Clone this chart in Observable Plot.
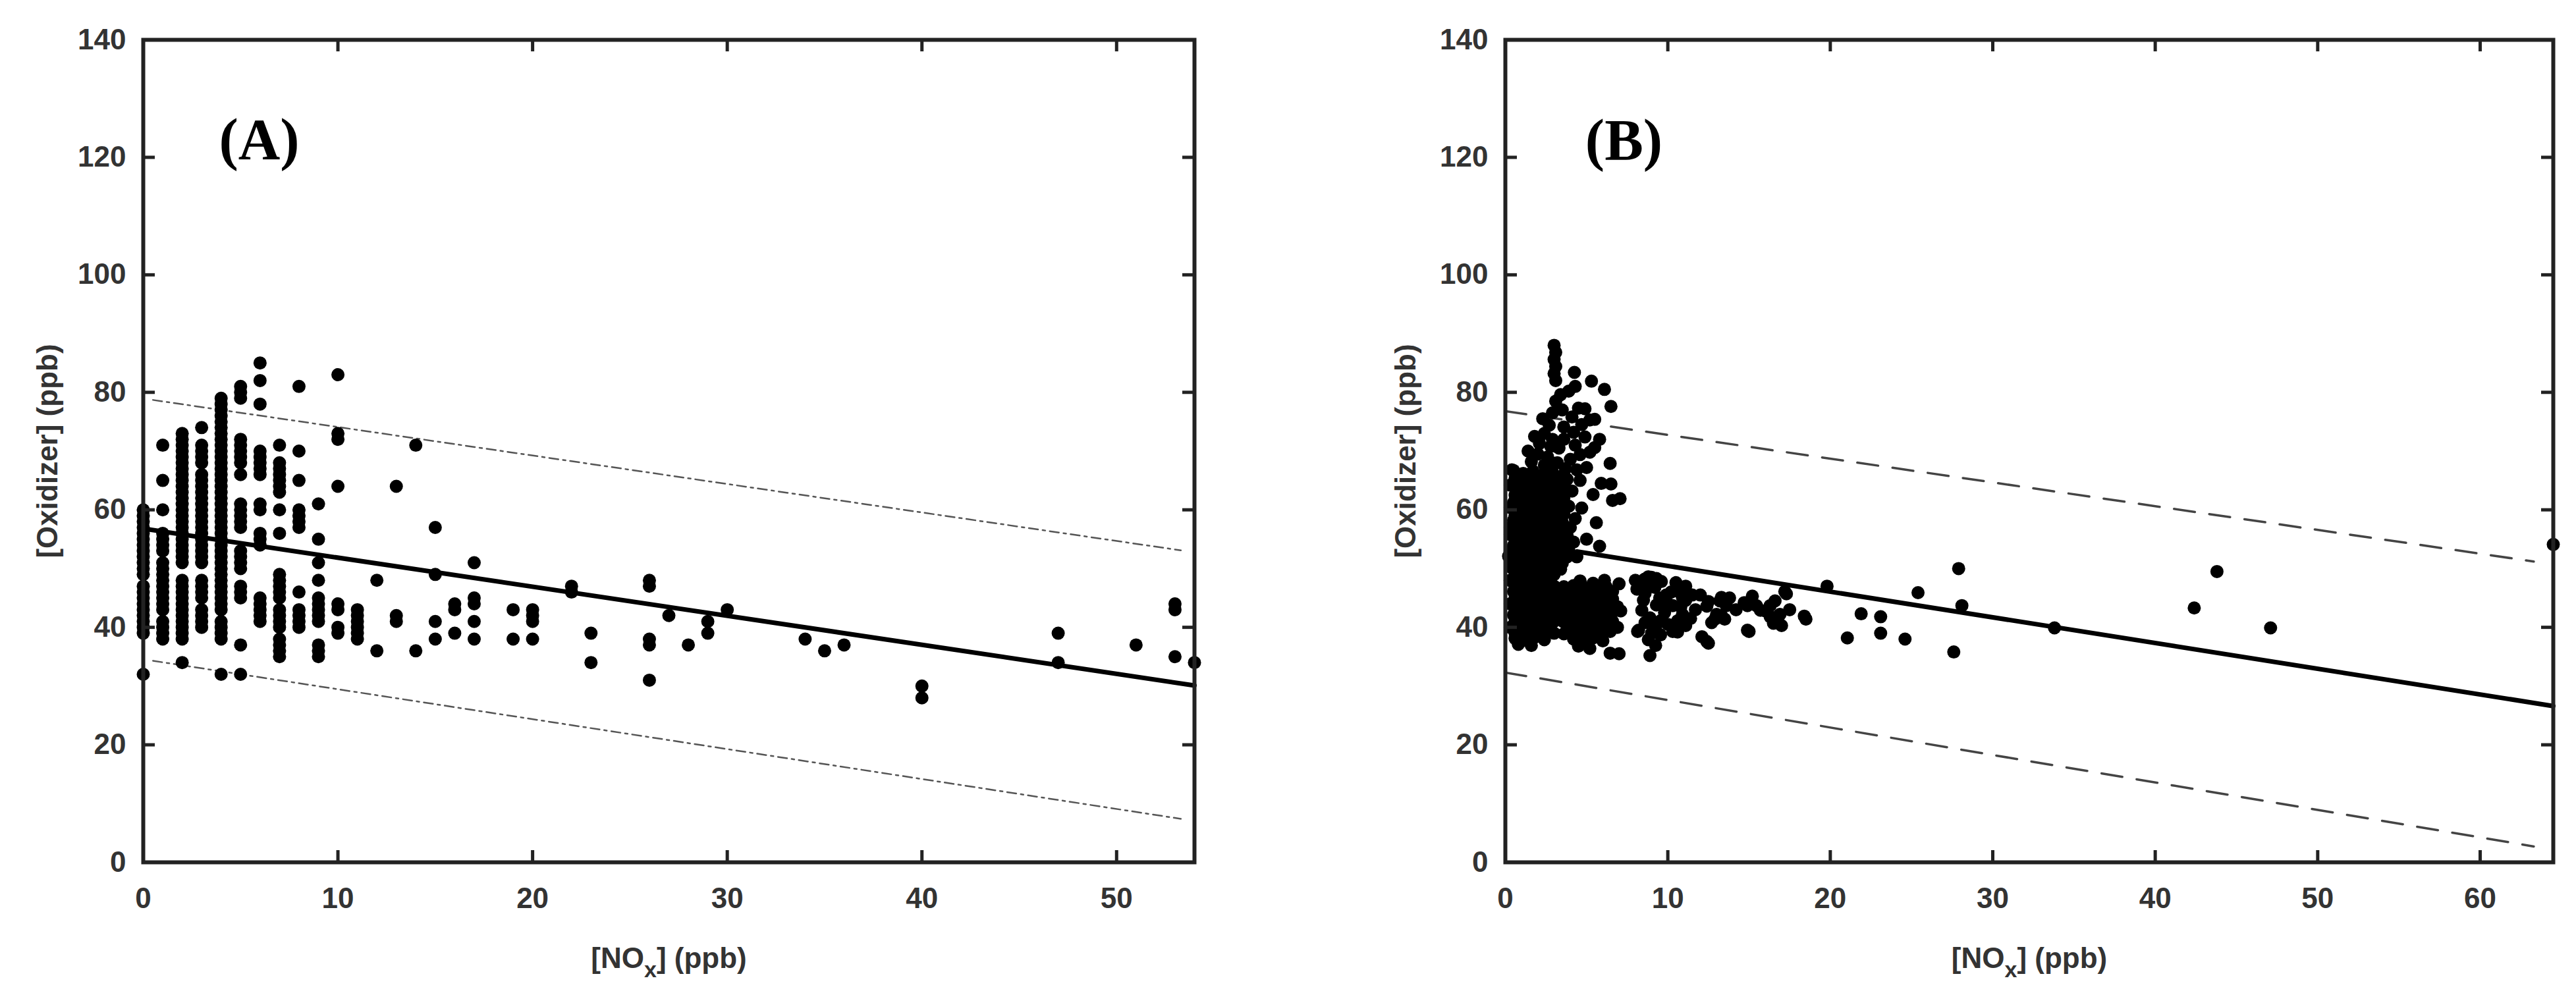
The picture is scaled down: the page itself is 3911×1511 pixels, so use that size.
<!DOCTYPE html>
<html><head><meta charset="utf-8">
<script src="https://cdn.jsdelivr.net/npm/d3@7"></script>
<script src="https://cdn.jsdelivr.net/npm/@observablehq/plot@0.6"></script>
<style>
html,body{margin:0;padding:0;background:#fff;}
#wrap{position:relative;width:3911px;height:1511px;overflow:hidden;background:#fff;}
#wrap > svg{position:absolute;top:0;}
</style></head><body><div id="wrap"></div>
<script>
// ---------------- DATA ----------------
// Panel A: NOx values are integers; oxidizer values per NOx column
const noxA = [0,1,2,3,4,5,6,7,8,9,10,11,12,13,14,15,16,17,19,20,22,23,26,27,28,29,30,34,35,36,40,47,51,53,54];
const oxidizerA = [
  [60,59,58,57,56,55,54,53,52,51,50,49,47,46,45,44,43,42,41,40,39,32],
  [71,65,60,56,55,54,53,51,50,49,48,47,46,45,44,43,41,40,39,38],
  [73,72,71,70,69,68,67,66,65,64,63,62,61,60,59,58,57,56,55,54,53,52,51,48,47,46,45,44,43,42,41,40,39,38,34],
  [74,71,70,69,68,66,65,64,63,62,61,60,59,58,57,56,55,54,53,52,51,48,47,46,45,43,42,41,40],
  [79,78,77,76,75,74,73,72,71,70,69,68,67,66,65,64,63,62,61,60,59,58,57,56,55,54,53,52,51,50,49,48,47,46,45,44,43,41,40,39,38,32],
  [81,80,79,72,71,70,69,68,66,61,60,59,58,57,53,52,51,50,47,46,45,37,32],
  [85,82,78,70,69,68,67,66,61,60,56,55,54,45,44,43,42,41],
  [71,68,67,66,65,64,63,60,56,49,48,47,46,45,43,42,41,40,38,37,36,35],
  [81,70,65,60,59,58,57,46,43,42,41,40],
  [61,55,51,48,45,44,43,42,41,37,36,35],
  [83,73,72,64,44,43,40,39],
  [43,42,41,40,39,38],
  [48,36],
  [64,42,41],
  [71,36],
  [57,49,41,38],
  [44,43,39],
  [51,45,44,41,38],
  [43,38],
  [43,42,41,38],
  [47,46],
  [39,34],
  [48,47,38,37,31],
  [42],
  [37],
  [41,39],
  [43],
  [38],
  [36],
  [37],
  [30,28],
  [39,34],
  [37],
  [44,43,35],
  [34]
];
const fitA_x = [0, 54];
const fitA_y = [56.8, 30.1];
const upperA_x = [0.5, 53.3];
const upperA_y = [78.7, 53.1];
const lowerA_x = [0.5, 53.3];
const lowerA_y = [34.3, 7.4];

// Panel B: [NOx, oxidizer] pairs
const pointsB = [
  // upper streak and upper cloud
  [3.0,88.0],[3.1,86.8],[3.0,85.6],[3.1,84.4],[3.0,83.2],[3.1,82.0],[4.25,83.4],[4.3,81.0],[5.3,81.9],[6.1,80.5],
  [6.5,77.6],[3.1,78.5],[3.9,80.2],[3.4,79.6],[4.5,77.3],[5.2,75.3],[4.9,77.2],[5.5,75.4],[2.7,74.4],[2.1,71.3],
  [3.6,74.1],[4.9,72.4],[5.2,69.8],[6.45,67.9],[5.9,64.5],[6.6,61.6],[6.5,64.4],[7.06,61.9],[2.4,73.0],[1.8,72.5],
  [2.9,72.0],[3.3,70.5],[4.3,71.0],[4.6,69.4],[5.5,70.6],[4.0,68.6],[1.4,70.0],[2.6,69.0],[3.7,67.0],[5.0,67.2],
  [0.5,66.7],[1.0,65.6],[4.6,65.0],[4.1,63.2],[5.4,62.6],[4.7,60.3],[5.6,57.8],[5.0,55.0],[4.4,52.0],[5.8,53.8],
  [2.3,75.5],[2.9,76.5],[3.5,77.0],[4.1,75.8],[4.7,74.5],[2.0,69.5],[2.8,70.8],[3.6,72.0],[4.2,73.2],[5.8,72.0],
  [3.2,68.0],[4.4,66.8],[3.8,65.2],[4.3,58.5],[4.0,57.0],[4.2,54.5],[1.6,68.2],[2.4,67.6],[3.0,67.9],
  // dense left block
  [0.4,66.8],[1.1,66.2],[1.7,66.6],[2.3,66.0],[2.9,66.4],[3.5,65.8],
  [0.6,65.3],[1.3,65.0],[1.9,65.4],[2.5,65.1],[3.1,65.5],
  [0.3,64.2],[0.9,64.6],[1.5,64.0],[2.1,64.8],[2.6,64.3],[3.2,64.7],
  [0.7,63.2],[1.3,63.4],[1.9,63.0],[2.5,63.3],[3.1,63.1],[3.7,63.6],
  [0.6,62.5],[1.2,62.0],[1.8,62.6],[2.4,62.1],[3.0,62.4],[3.6,62.0],
  [0.5,61.2],[1.1,61.4],[1.7,61.0],[2.3,61.3],[2.9,61.1],[3.5,61.4],
  [0.3,60.4],[0.9,60.0],[1.5,60.5],[2.0,59.9],[2.6,60.3],[3.3,60.1],[3.9,60.6],
  [0.6,59.1],[1.2,59.3],[1.8,58.9],[2.4,59.2],[3.0,59.0],[3.6,59.3],
  [0.5,58.2],[1.1,57.8],[1.7,58.3],[2.3,57.7],[2.9,58.1],[3.5,57.9],
  [0.3,57.0],[0.9,56.9],[1.5,57.2],[2.1,56.8],[2.7,57.1],[3.3,56.9],
  [0.3,55.8],[0.8,56.2],[1.4,55.9],[2.0,56.3],[2.6,55.7],[3.2,56.1],[3.8,55.6],
  [0.6,54.9],[1.2,55.0],[1.8,54.8],[2.4,55.1],[3.0,54.9],[3.6,55.0],
  [0.5,53.9],[1.1,54.2],[1.7,53.7],[2.3,54.1],[2.9,53.8],[3.5,54.3],
  [0.3,53.0],[0.9,52.9],[1.5,53.1],[2.1,52.8],[2.7,53.1],[3.3,52.9],[3.9,53.2],
  [0.2,52.1],[0.8,51.8],[1.4,52.3],[2.0,51.9],[2.6,52.2],[3.2,51.7],[3.8,52.0],
  [0.5,51.0],[1.1,50.9],[1.7,51.1],[2.3,50.8],[2.9,51.0],[3.5,50.9],
  [0.4,50.1],[1.0,49.8],[1.6,50.3],[2.2,49.7],[2.8,50.2],[3.4,49.9],
  [0.6,49.0],[1.2,48.9],[1.8,49.1],[2.4,48.8],[3.0,49.0],
  // dense lower block
  [0.3,48.0],[0.9,47.6],[1.5,48.2],[2.1,47.8],[2.7,48.1],[4.6,47.9],[5.4,47.5],[6.1,48.0],[7.0,47.4],
  [0.6,47.0],[1.2,46.9],[1.8,47.1],[2.4,46.8],[3.0,47.0],[3.6,46.9],[4.2,47.1],[4.8,46.8],[5.5,47.0],[6.2,46.9],
  [0.5,46.1],[1.1,45.7],[1.7,46.2],[2.3,45.8],[2.9,46.0],[3.5,45.6],[4.1,46.2],[4.7,45.8],[5.3,46.0],[5.9,45.5],[6.6,46.1],
  [0.6,45.0],[1.2,44.9],[1.8,45.1],[2.4,44.8],[3.0,45.0],[3.6,44.9],[4.2,45.1],[4.8,44.8],[5.4,45.0],[6.0,44.9],[6.6,44.8],
  [0.3,44.0],[0.9,43.6],[1.5,44.2],[2.1,43.8],[2.7,44.1],[3.3,43.7],[3.9,44.2],[4.5,43.9],[5.1,44.3],[5.7,43.6],[6.3,44.0],[6.9,43.5],
  [0.6,43.0],[1.2,42.9],[1.8,43.1],[2.4,42.8],[3.0,43.0],[3.6,42.9],[4.2,43.1],[4.8,42.8],[5.4,43.0],[6.0,42.9],[6.6,43.1],
  [0.5,42.1],[1.1,41.7],[1.7,42.2],[2.3,41.8],[2.9,42.0],[3.5,41.6],[4.1,42.1],[4.7,41.8],[5.3,42.3],[5.9,41.7],[6.5,42.0],[7.1,42.8],
  [0.6,41.0],[1.2,40.9],[1.8,41.1],[2.4,40.8],[3.0,41.0],[3.6,40.9],[4.2,41.1],[4.8,40.8],[5.4,41.0],[6.0,40.9],[6.6,41.0],
  [0.3,40.0],[0.9,39.6],[1.5,40.2],[2.1,39.8],[2.7,40.1],[3.9,39.7],[4.5,40.2],[5.1,39.8],[5.7,40.1],[6.3,39.6],[6.9,40.0],
  [0.6,39.0],[1.2,38.9],[1.8,39.1],[2.4,38.8],[3.0,39.0],[3.6,38.9],[4.2,39.1],[4.8,38.8],[5.4,39.0],[6.0,38.9],
  [0.6,38.1],[1.2,37.8],[1.8,38.3],[2.4,37.9],[4.2,38.0],[4.8,37.6],[5.4,38.2],[6.0,37.7],[6.45,39.3],
  [0.8,37.1],[4.5,36.8],[5.2,36.4],[6.45,35.6],[7.0,35.5],[1.6,36.9],
  // middle cluster
  [27.9,50.0],[25.4,45.9],[28.1,43.7],[27.6,35.8],[24.6,38.0],[23.1,41.8],[23.1,39.0],[21.9,42.3],[21.05,38.2],[19.8,47.0],
  [18.4,41.9],[17.2,46.1],[16.9,42.2],[17.0,40.3],[16.3,43.7],[16.3,41.8],[15.2,45.3],[14.9,43.7],[14.9,39.5],[13.3,45.1],
  [13.6,43.7],[12.5,44.4],[12.9,41.4],[13.3,42.0],[12.1,38.4],[12.5,37.3],[11.1,47.0],[10.9,45.1],[10.3,43.7],[9.6,47.8],
  [9.0,48.5],[8.57,48.2],[9.9,45.5],[8.4,42.9],[9.8,42.5],[9.25,39.9],[8.2,39.5],[11.1,40.3],[10.6,39.2],[9.25,36.9],
  [8.9,35.2],[15.45,43.7],[15.7,42.9],[16.5,40.7],
  [8.0,48.0],[8.8,48.6],[9.3,48.3],[8.5,44.6],[8.14,39.3],[8.8,37.9],[9.55,41.1],[10.07,43.9],[10.6,46.2],[11.1,44.6],
  [10.6,41.1],[10.3,39.3],[9.55,38.7],[12.4,43.6],[13.2,44.5],[12.4,37.6],[13.0,42.2],[12.7,40.8],[13.5,41.4],[14.7,44.2],
  [15.0,39.3],[16.0,42.8],[16.8,41.9],[17.3,45.7],[18.5,41.4],
  [8.1,46.5],[8.6,45.8],[9.2,46.8],[9.7,44.0],[10.5,47.6],[10.9,42.2],[11.4,41.5],[8.9,41.6],[9.3,43.8],
  [8.3,47.2],[9.0,47.0],[9.5,45.0],[10.2,46.0],[10.8,43.5],[11.5,45.5],[8.6,40.8],[9.0,39.0],[10.0,40.5],[11.7,43.0],
  [12.0,45.5],[13.8,45.0],[14.2,43.0],[16.6,44.5],[17.5,43.0],
  // far right
  [33.8,39.9],[42.4,43.3],[43.8,49.5],[47.1,39.9],[64.5,54.1]
];
const fitB_x = [4.4, 64.5];
const fitB_y = [52.9, 26.6];
const upperB_x = [0, 63.3];
const upperB_y = [76.8, 51.2];
const lowerB_x = [0, 63.3];
const lowerB_y = [32.3, 2.7];

const xTicksA = [0,10,20,30,40,50];
const xTicksB = [0,10,20,30,40,50,60];
const yTicks = [0,20,40,60,80,100,120,140];
const yLabel = "[Oxidizer] (ppb)";
const xLabel = "[NOx] (ppb)";

// ---------------- BUILD ----------------
const toPts = (xs, ys) => xs.map((x, i) => ({x, y: ys[i]}));
const ptsA = noxA.flatMap((x, i) => oxidizerA[i].map(y => ({x, y})));
const ptsB = pointsB.map(([x, y]) => ({x, y}));

function panel({points, xDomain, xTicks, fit, upper, lower, dash, bandColor, bandWidth, tag, width, marginLeft, marginRight, tagDx, tagDy, yLabelOffset}) {
  const H = 1511, mt = 60, mb = 202;
  const plotH = H - mt - mb;
  const plotW = width - marginLeft - marginRight;
  const tickLen = 18;
  const axisColor = "#222";
  const svg = Plot.plot({
    width, height: H, marginTop: mt, marginBottom: mb, marginLeft, marginRight,
    style: {fontFamily: "'Liberation Sans', Arial, sans-serif", fontSize: "44px", fontWeight: "bold", color: "#333", background: "white", overflow: "visible"},
    x: {domain: xDomain},
    y: {domain: [0, 140]},
    marks: [
      Plot.line(upper, {x: "x", y: "y", stroke: bandColor, strokeWidth: bandWidth, strokeDasharray: dash}),
      Plot.line(lower, {x: "x", y: "y", stroke: bandColor, strokeWidth: bandWidth, strokeDasharray: dash}),
      Plot.dot(points, {x: "x", y: "y", r: 10, fill: "black"}),
      Plot.line(fit, {x: "x", y: "y", stroke: "black", strokeWidth: 7}),
      Plot.ruleX(xTicks, {x: d => d, insetTop: plotH - tickLen, stroke: axisColor, strokeWidth: 5}),
      Plot.ruleX(xTicks, {x: d => d, insetBottom: plotH - tickLen, stroke: axisColor, strokeWidth: 5}),
      Plot.ruleY(yTicks, {y: d => d, insetRight: plotW - tickLen, stroke: axisColor, strokeWidth: 5}),
      Plot.ruleY(yTicks, {y: d => d, insetLeft: plotW - tickLen, stroke: axisColor, strokeWidth: 5}),
      Plot.frame({stroke: axisColor, strokeWidth: 6}),
      Plot.axisX(xTicks, {tickSize: 0, tickPadding: 38, label: xLabel, labelAnchor: "center", labelArrow: "none", labelOffset: 160, fill: "#333"}),
      Plot.axisY(yTicks, {tickSize: 0, tickPadding: 26, label: yLabel, labelAnchor: "center", labelArrow: "none", labelOffset: yLabelOffset, fill: "#333"}),
      Plot.text([tag], {frameAnchor: "top-left", dx: tagDx, dy: tagDy, text: d => d, fontFamily: "'Liberation Serif', 'Times New Roman', serif", fontWeight: "bold", fontSize: 88, textAnchor: "middle", lineAnchor: "middle", fill: "#000"})
    ]
  });
  // subscript x in the x-axis title
  svg.querySelectorAll("text").forEach(t => {
    if (t.textContent === xLabel) {
      while (t.firstChild) t.removeChild(t.firstChild);
      const ns = "http://www.w3.org/2000/svg";
      const a = document.createElementNS(ns, "tspan"); a.textContent = "[NO";
      const b = document.createElementNS(ns, "tspan"); b.textContent = "x"; b.setAttribute("dy", "14"); b.setAttribute("font-size", "34");
      const c = document.createElementNS(ns, "tspan"); c.textContent = "] (ppb)"; c.setAttribute("dy", "-14");
      t.append(a, b, c);
    }
  });
  return svg;
}

const wrap = document.getElementById("wrap");
const svgA = panel({
  points: ptsA, xDomain: [0, 54], xTicks: xTicksA,
  fit: toPts(fitA_x, fitA_y), upper: toPts(upperA_x, upperA_y), lower: toPts(lowerA_x, lowerA_y),
  dash: "14,7,4,7", bandColor: "#555", bandWidth: 2.5,
  tag: "(A)", width: 1955, marginLeft: 217, marginRight: 142, tagDx: 176, tagDy: 152, yLabelOffset: 162
});
svgA.style.left = "0px";
wrap.appendChild(svgA);

const svgB = panel({
  points: ptsB, xDomain: [0, 64.5], xTicks: xTicksB,
  fit: toPts(fitB_x, fitB_y), upper: toPts(upperB_x, upperB_y), lower: toPts(lowerB_x, lowerB_y),
  dash: "32,22", bandColor: "#444", bandWidth: 3.5,
  tag: "(B)", width: 1956, marginLeft: 330, marginRight: 35, tagDx: 180, tagDy: 153, yLabelOffset: 168
});
svgB.style.left = "1955px";
wrap.appendChild(svgB);
</script>
</body></html>
